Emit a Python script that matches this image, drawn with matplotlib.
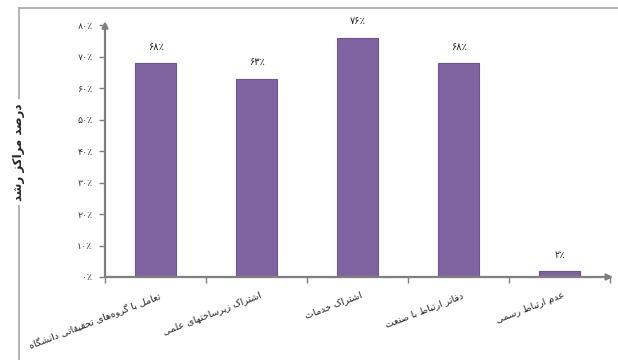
import matplotlib
matplotlib.use("Agg")
import matplotlib.pyplot as plt
from matplotlib.lines import Line2D

categories = [
    "تعامل با گروه\u200cهای تحقیقاتی دانشگاه",
    "اشتراک زیرساختهای علمی",
    "اشتراک خدمات",
    "دفاتر ارتباط با صنعت",
    "عدم ارتباط رسمی",
]
values = [68, 63, 76, 68, 2]
y_ticks = [0, 10, 20, 30, 40, 50, 60, 70, 80]
y_label = "درصد مراکز رشد"

BAR_COLOR = "#8064a2"
AXIS_COLOR = "#7f7f7f"

# presentation forms: isolated, final, initial, medial (None = right-joining only)
FORMS = {
    "ا": (0xFE8D, 0xFE8E, None, None),
    "ب": (0xFE8F, 0xFE90, 0xFE91, 0xFE92),
    "ت": (0xFE95, 0xFE96, 0xFE97, 0xFE98),
    "ث": (0xFE99, 0xFE9A, 0xFE9B, 0xFE9C),
    "ج": (0xFE9D, 0xFE9E, 0xFE9F, 0xFEA0),
    "ح": (0xFEA1, 0xFEA2, 0xFEA3, 0xFEA4),
    "خ": (0xFEA5, 0xFEA6, 0xFEA7, 0xFEA8),
    "د": (0xFEA9, 0xFEAA, None, None),
    "ذ": (0xFEAB, 0xFEAC, None, None),
    "ر": (0xFEAD, 0xFEAE, None, None),
    "ز": (0xFEAF, 0xFEB0, None, None),
    "س": (0xFEB1, 0xFEB2, 0xFEB3, 0xFEB4),
    "ش": (0xFEB5, 0xFEB6, 0xFEB7, 0xFEB8),
    "ص": (0xFEB9, 0xFEBA, 0xFEBB, 0xFEBC),
    "ض": (0xFEBD, 0xFEBE, 0xFEBF, 0xFEC0),
    "ط": (0xFEC1, 0xFEC2, 0xFEC3, 0xFEC4),
    "ظ": (0xFEC5, 0xFEC6, 0xFEC7, 0xFEC8),
    "ع": (0xFEC9, 0xFECA, 0xFECB, 0xFECC),
    "غ": (0xFECD, 0xFECE, 0xFECF, 0xFED0),
    "ف": (0xFED1, 0xFED2, 0xFED3, 0xFED4),
    "ق": (0xFED5, 0xFED6, 0xFED7, 0xFED8),
    "ل": (0xFEDD, 0xFEDE, 0xFEDF, 0xFEE0),
    "م": (0xFEE1, 0xFEE2, 0xFEE3, 0xFEE4),
    "ن": (0xFEE5, 0xFEE6, 0xFEE7, 0xFEE8),
    "ه": (0xFEE9, 0xFEEA, 0xFEEB, 0xFEEC),
    "و": (0xFEED, 0xFEEE, None, None),
    "پ": (0xFB56, 0xFB57, 0xFB58, 0xFB59),
    "چ": (0xFB7A, 0xFB7B, 0xFB7C, 0xFB7D),
    "ژ": (0xFB8A, 0xFB8B, None, None),
    "ک": (0xFB8E, 0xFB8F, 0xFB90, 0xFB91),
    "گ": (0xFB92, 0xFB93, 0xFB94, 0xFB95),
    "ی": (0xFBFC, 0xFBFD, 0xFBFE, 0xFBFF),
}


def shape(text):
    out = []
    for i, ch in enumerate(text):
        if ch not in FORMS:
            if ch != "\u200c":
                out.append(ch)
            continue
        prev = text[i - 1] if i > 0 else ""
        nxt = text[i + 1] if i + 1 < len(text) else ""
        join_prev = prev in FORMS and FORMS[prev][2] is not None
        join_next = FORMS[ch][2] is not None and nxt in FORMS
        iso, fin, ini, med = FORMS[ch]
        if join_prev and join_next:
            code = med
        elif join_prev:
            code = fin
        elif join_next:
            code = ini
        else:
            code = iso
        out.append(chr(code))
    return "".join(reversed(out))


def fa_pct(v):
    digits = "۰۱۲۳۴۵۶۷۸۹"
    return "".join(digits[int(d)] for d in str(v)) + "٪"


plt.rcParams["font.family"] = ["DejaVu Sans"]

fig = plt.figure(figsize=(6.18, 3.6), dpi=100)
ax = fig.add_axes([105 / 618, 1 - 277 / 360, 505 / 618, 252 / 360])

x = list(range(len(categories)))
bars = ax.bar(x, values, width=0.4, color=BAR_COLOR, edgecolor="#6c5490", linewidth=0.8)
for rect, v in zip(bars, values):
    ax.annotate(fa_pct(v), xy=(rect.get_x() + rect.get_width() / 2, v),
                xytext=(0, 8), textcoords="offset points",
                ha="center", va="bottom", fontsize=7, color="#222222")

ax.set_xlim(-0.5, len(categories) - 0.5)
ax.set_ylim(0, 80)
ax.set_yticks(y_ticks)
ax.set_yticklabels([fa_pct(t) for t in y_ticks], fontsize=6.8, color="#333333")
ax.set_xticks([i - 0.5 for i in range(len(categories) + 1)])
ax.set_xticklabels([])
ax.tick_params(axis="y", length=4, width=1, color=AXIS_COLOR, pad=5)
ax.tick_params(axis="x", length=4, width=1, color=AXIS_COLOR)
for s in ax.spines.values():
    s.set_visible(False)

arrow = dict(arrowstyle="-|>", color=AXIS_COLOR, lw=1.6, mutation_scale=9,
             shrinkA=0, shrinkB=0)
ax.annotate("", xy=(1.006, 0), xytext=(0, 0), xycoords="axes fraction",
            arrowprops=arrow, annotation_clip=False)
ax.annotate("", xy=(0, 1.015), xytext=(0, 0), xycoords="axes fraction",
            arrowprops=arrow, annotation_clip=False)

for i, cat in enumerate(categories):
    ax.annotate(shape(cat), xy=(i, 0), xycoords=("data", "axes fraction"),
                xytext=(2, -10), textcoords="offset points",
                rotation=21, rotation_mode="anchor", ha="right", va="top",
                fontsize=6.8, color="#222222")

# outer chart frame
frame_kw = dict(transform=fig.transFigure, color="#a6a6a6", lw=1.2)
fig.add_artist(Line2D([19 / 618, 1], [1 - 8 / 360] * 2, **frame_kw))
fig.add_artist(Line2D([19 / 618] * 2, [0, 1 - 8 / 360], **frame_kw))

fig.text(19 / 618, 1 - 152 / 360, shape(y_label), rotation=90, ha="center",
         va="center", fontsize=8.5, fontweight="bold", color="#222222",
         bbox=dict(facecolor="white", edgecolor="none", pad=3))

fig.savefig("out.png", dpi=100)
